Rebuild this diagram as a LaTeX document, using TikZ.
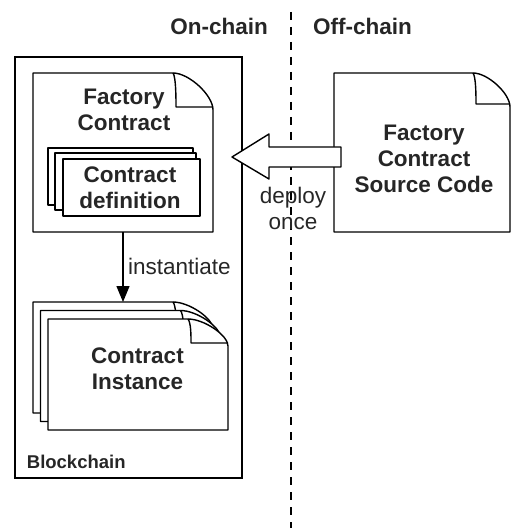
\documentclass[tikz,border=0pt]{standalone}
\usepackage{fontspec}
\setmainfont{Liberation Sans}
\usetikzlibrary{arrows.meta}
\tikzset{
  frame/.style={draw=black, line width=1.4pt, fill=white, line join=round},
  box/.style={draw=none, inner sep=0pt, outer sep=0pt},
  boldtext/.style={font=\fontsize{22.5}{26}\selectfont\bfseries, text=black!85, align=center, inner sep=0pt},
  plaintext/.style={font=\fontsize{22.5}{26.5}\selectfont, text=black!85, align=center, inner sep=0pt},
  sidetext/.style={font=\fontsize{18.5}{22}\selectfont\bfseries, text=black!85, inner sep=0pt},
  divider/.style={draw=black, line width=1.4pt, dash pattern=on 8pt off 7pt},
  flow/.style={draw=black, line width=1.4pt, -{Triangle[length=16pt,width=13pt]}},
}
% #1 node, #2 fold width, #3 fold height
\newcommand{\docframe}[3]{%
  \draw[frame] (#1.north west) -- ([shift={({-#2},0)}]#1.north east)
    .. controls +({0.4*#2},0) and +(0,{-0.4*#3}) .. ([shift={(0,#3)}]#1.north east)
    -- (#1.south east) -- (#1.south west) -- cycle;
  \draw[frame, fill=none] ([shift={({-#2},0)}]#1.north east)
    .. controls +(3,4) and +(0,-8) .. ([shift={({-#2+3},{#3-3})}]#1.north east)
    -- ([shift={(0,{#3-3})}]#1.north east);
}
\begin{document}
\begin{tikzpicture}[x=1pt,y=-1pt]
\useasboundingbox (0,0) rectangle (511,529);

% divider
\coordinate (divtop) at (291,12);
\coordinate (divbot) at (291,528);
\draw[divider] (divtop) -- (divbot);

\node[boldtext, anchor=base east] (onlabel) at (268,35) {On-chain};
\node[boldtext, anchor=base west] (offlabel) at (313,35) {Off-chain};

% blockchain container
\node[box, draw=black, line width=1.4pt, minimum width=227pt, minimum height=421pt] (chain) at (128.5,267.5) {};
\node[sidetext, anchor=base west] (chainlabel) at (26.7,468.3) {Blockchain};

% factory contract
\node[box, minimum width=180pt, minimum height=159pt] (factory) at (123,152.5) {};
\docframe{factory}{40}{37}
\node[boldtext] (factorytext) at (124,109.5) {Factory\\Contract};

% contract definition stack
\node[box, frame, minimum width=145pt, minimum height=57pt] (def3) at (120.5,176.5) {};
\node[box, frame, minimum width=141pt, minimum height=57pt] (def2) at (125.5,181.5) {};
\node[box, frame, minimum width=137pt, minimum height=57pt] (def1) at (131.5,187.5) {};
\node[boldtext] (deftext) at (130,187.5) {Contract\\definition};

% contract instance stack
\node[box, minimum width=180pt, minimum height=111pt] (inst3) at (123,357.5) {};
\node[box, minimum width=180pt, minimum height=111pt] (inst2) at (130.5,366) {};
\node[box, minimum width=180pt, minimum height=111pt] (instance) at (138,374.5) {};
\docframe{inst3}{40}{27}
\docframe{inst2}{40}{27}
\docframe{instance}{40}{27}
\node[boldtext] (insttext) at (137.5,368.5) {Contract\\Instance};

% instantiate connector
\draw[flow] (factory.south) -- (inst3.north);
\node[plaintext, anchor=base west] (instlabel) at (128,274.3) {instantiate};

% source code document
\node[box, minimum width=176pt, minimum height=159pt] (source) at (422,152.5) {};
\docframe{source}{37}{34}
\node[boldtext] (sourcetext) at (424,158.5) {Factory\\Contract\\Source Code};

% deploy block arrow (from source towards factory)
\coordinate (tip) at ([xshift=19pt]factory.east |- 0,157);
\draw[frame] (tip) -- ++(37,-23) -- ++(0,13) -- ++(72,0) -- ++(0,20) -- ++(-72,0) -- ++(0,12) -- cycle;
\node[plaintext] (deploylabel) at (293,208.5) {deploy\\once};
\end{tikzpicture}
\end{document}
